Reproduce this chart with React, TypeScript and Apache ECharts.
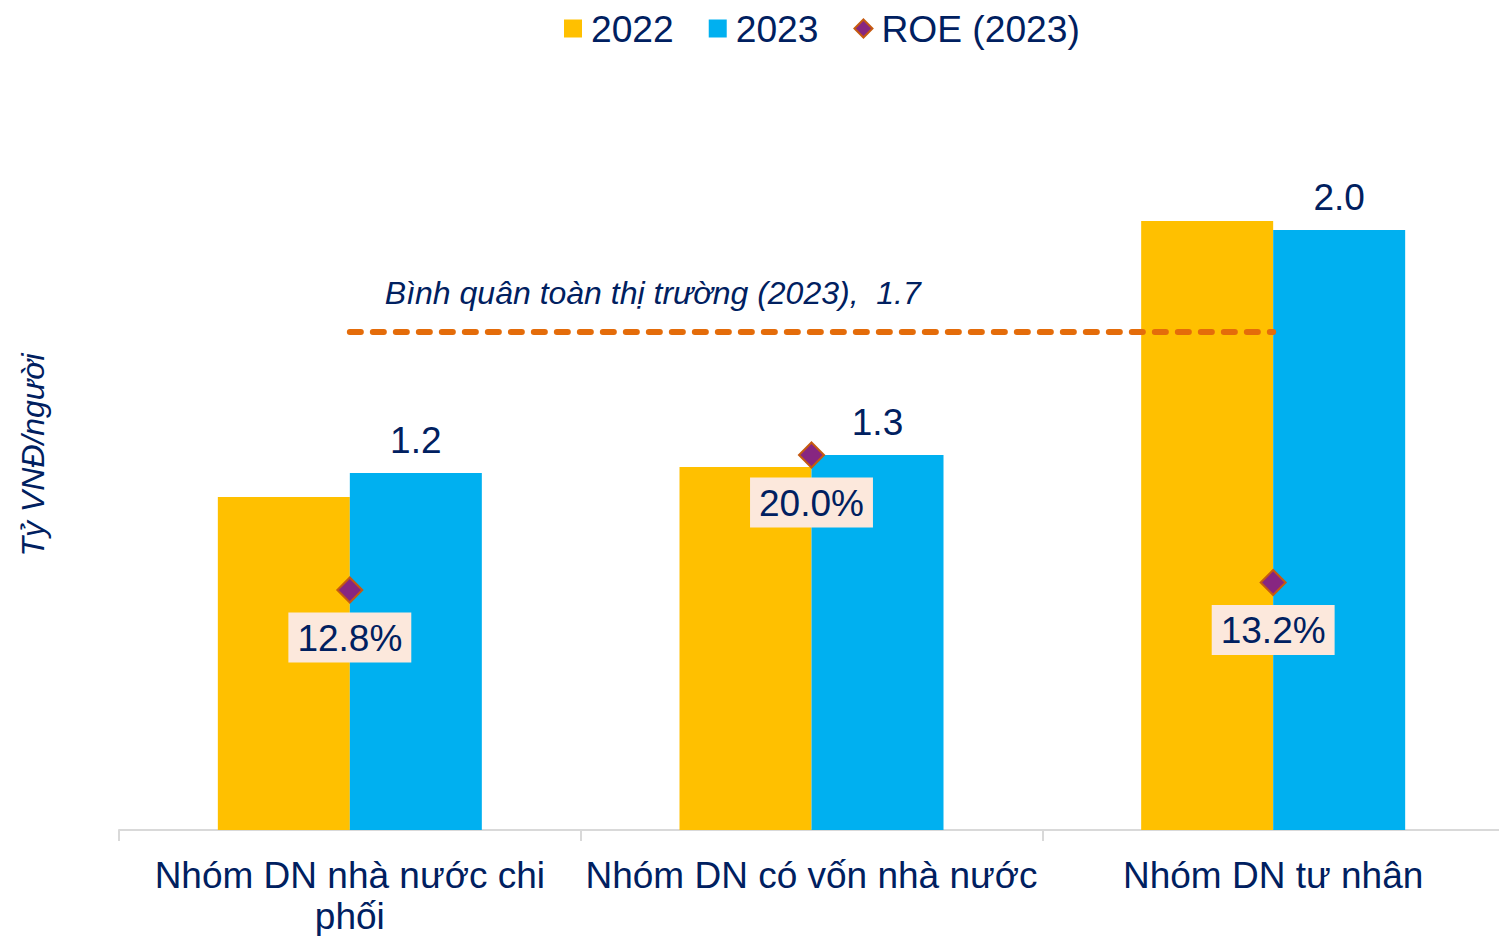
import React, { useEffect, useRef } from "react";
import * as echarts from "echarts";

const categories = ["Nhóm DN nhà nước chi phối", "Nhóm DN có vốn nhà nước", "Nhóm DN tư nhân"];
const values2022 = [1.11, 1.21, 2.03];
const values2023 = [1.19, 1.25, 2.0];
const roe2023 = [12.8, 20.0, 13.2];
const marketAverage2023 = 1.66;
const averageLabel = "Bình quân toàn thị trường (2023)";
const yAxisName = "Tỷ VNĐ/người";

const NAVY = "#002060";
const FONT = "'Liberation Sans', Arial, sans-serif";

function wrapLabel(v: string) {
  if (v.length <= 24) return v;
  const i = v.lastIndexOf(" ");
  return v.slice(0, i) + "\n" + v.slice(i + 1);
}

export default function App() {
  const ref = useRef<HTMLDivElement>(null);
  useEffect(() => {
    if (!ref.current) return;
    const chart = echarts.init(ref.current, null, { renderer: "svg" });
    const fmt1 = (v: number) => (Math.round(v * 10) / 10).toFixed(1);
    chart.setOption({
      animation: false,
      textStyle: { fontFamily: FONT },
      legend: {
        left: 564,
        top: 10,
        padding: 0,
        itemWidth: 18,
        itemHeight: 18,
        itemGap: 35,
        textStyle: { fontSize: 37.2, color: NAVY, fontFamily: FONT, padding: [0, 0, 0, 4] },
        data: [
          { name: "2022", icon: "rect" },
          { name: "2023", icon: "rect" },
          { name: "ROE (2023)", icon: "diamond" },
        ],
      },
      grid: {
        left: 119,
        top: 80,
        width: 1385,
        height: 750,
        containLabel: false,
        outerBoundsMode: "none",
      },
      xAxis: {
        type: "category",
        data: categories,
        axisLine: { lineStyle: { color: "#D9D9D9", width: 2 } },
        axisTick: { show: true, length: 11, lineStyle: { color: "#D9D9D9", width: 2 } },
        axisLabel: {
          color: NAVY,
          fontSize: 37,
          fontFamily: FONT,
          margin: 25,
          lineHeight: 41,
          interval: 0,
          formatter: (v: string) => wrapLabel(v),
        },
      },
      yAxis: [
        {
          type: "value",
          min: 0,
          max: 2.5,
          interval: 0.5,
          axisLabel: { show: false },
          axisLine: { show: false },
          axisTick: { show: false },
          splitLine: { show: false },
          name: yAxisName,
          nameLocation: "middle",
          nameRotate: 90,
          nameGap: 70,
          nameTextStyle: { color: NAVY, fontSize: 32, fontStyle: "italic", fontFamily: FONT },
        },
        {
          type: "value",
          min: 0,
          max: 40,
          interval: 10,
          axisLabel: { show: false },
          axisLine: { show: false },
          axisTick: { show: false },
          splitLine: { show: false },
        },
      ],
      series: [
        {
          name: "2022",
          type: "bar",
          data: values2022,
          barWidth: 132,
          barGap: "0%",
          itemStyle: { color: "#FFC000" },
        },
        {
          name: "2023",
          type: "bar",
          data: values2023,
          barWidth: 132,
          barGap: "0%",
          itemStyle: { color: "#00B0F0" },
          label: {
            show: true,
            position: "top",
            distance: 14,
            color: NAVY,
            fontSize: 37,
            fontFamily: FONT,
            formatter: (p: any) => fmt1(p.value),
          },
        },
        {
          name: "avg",
          type: "line",
          data: [],
          silent: true,
          markLine: {
            silent: true,
            symbol: ["none", "none"],
            lineStyle: { color: "#E46C0A", width: 6, type: [11, 12], cap: "round" },
            label: {
              show: true,
              position: "insideStartTop",
              distance: [35, 23],
              color: NAVY,
              fontSize: 32,
              fontStyle: "italic",
              fontFamily: FONT,
              formatter: () => `${averageLabel},  ${fmt1(marketAverage2023)}`,
            },
            emphasis: { disabled: true },
            data: [
              [
                { coord: [0, marketAverage2023] },
                { coord: [categories.length - 1, marketAverage2023] },
              ],
            ],
          },
        },
        {
          name: "ROE (2023)",
          type: "scatter",
          yAxisIndex: 1,
          data: roe2023,
          symbol: "diamond",
          symbolSize: 25,
          itemStyle: { color: "#872681", borderColor: "#C55A11", borderWidth: 2, opacity: 1 },
          label: {
            show: true,
            position: "bottom",
            distance: 9,
            color: NAVY,
            fontSize: 37,
            fontFamily: FONT,
            backgroundColor: "#FCE8DC",
            padding: [7, 9, 6, 9],
            formatter: (p: any) => `${Number(p.value).toFixed(1)}%`,
          },
          z: 5,
        },
      ],
    });
    return () => chart.dispose();
  }, []);
  return (
    <div
      style={{ position: "absolute", left: 0, top: 0, width: 1499, height: 936, overflow: "hidden", background: "#fff" }}
    >
      <div ref={ref} style={{ width: 1505, height: 936 }} />
    </div>
  );
}
